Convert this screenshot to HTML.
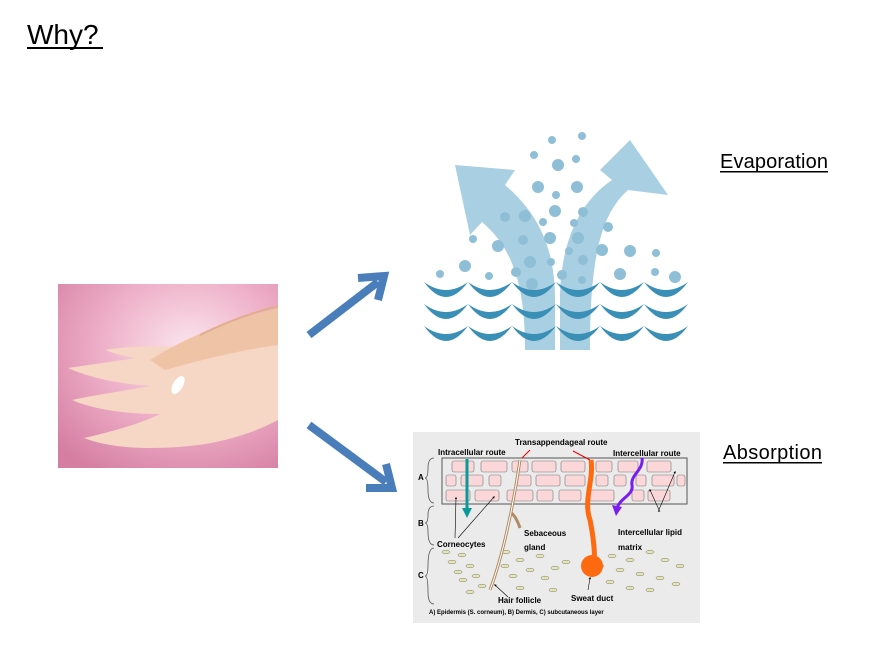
<!DOCTYPE html>
<html><head><style>
body{margin:0;background:#fff;width:874px;height:654px;overflow:hidden;font-family:"Liberation Sans",sans-serif}
</style></head><body>
<svg width="874" height="654" viewBox="0 0 874 654" xmlns="http://www.w3.org/2000/svg" font-family="Liberation Sans, sans-serif">
<defs>
<radialGradient id="pk" cx="0.6" cy="0.35" r="0.8">
<stop offset="0" stop-color="#fbe6ee"/><stop offset="0.5" stop-color="#eeb0c8"/><stop offset="1" stop-color="#d57ea2"/></radialGradient>
<marker id="ah" markerWidth="4" markerHeight="4" refX="2" refY="2" orient="auto"><path d="M0,0L4,2L0,4z" fill="#000"/></marker>
</defs>
<text x="27" y="44" font-size="28" fill="#000">Why?</text>
<rect x="27" y="47" width="76" height="2" fill="#000"/>
<text x="720" y="168" textLength="108" font-size="20">Evaporation</text><rect x="720" y="171" width="108" height="1.5" fill="#000"/>
<text x="723" y="459" textLength="99" font-size="20">Absorption</text><rect x="723" y="462" width="99" height="1.5" fill="#000"/>
<!-- hands -->
<rect x="58" y="284" width="220" height="184" fill="url(#pk)"/>
<g fill="#f6d6c4">
<path d="M68,368 C110,362 150,356 190,350 C220,345 250,330 278,320 L278,420 C240,440 200,448 150,448 C120,448 100,444 84,438 C110,432 140,424 160,414 C120,414 90,408 72,400 C100,394 130,390 150,386 C120,384 90,378 68,368z"/>
<path d="M105,350 C130,346 160,345 185,348 L180,362 C150,362 125,358 105,350z"/>
<path d="M120,433 C145,430 170,426 190,420 L195,436 C170,442 145,442 120,433z"/>
</g>
<path d="M150,360 C190,335 230,320 278,308 L278,345 C240,350 200,360 165,370z" fill="#efc3a6"/>
<path d="M200,335 C230,320 255,312 278,306" stroke="#e2ac8e" stroke-width="2" fill="none"/>
<ellipse cx="178" cy="385" rx="5" ry="10" fill="#fff" transform="rotate(30 178 385)"/>
<!-- arrows -->
<g stroke="#4a7ebb" stroke-width="8" fill="none" stroke-linejoin="miter">
<path d="M309,335 L378,282"/><path d="M358,278 L384,276 L378,300"/>
<path d="M309,425 L386,482"/><path d="M366,488 L392,488 L386,464"/>
</g>
<!-- evaporation -->
<g fill="#a9cfe2">
<path d="M555,350 L555,300 C555,250 540,215 505,185 L515,170 L455,165 L470,235 L482,222 C515,250 525,290 525,350z"/>
<path d="M560,350 L560,300 C560,250 575,205 612,180 L600,170 L630,140 L668,195 L628,190 C600,215 590,260 590,350z"/>
</g>
<g fill="#8fbfd6">
<circle cx="582" cy="136" r="4"/><circle cx="552" cy="140" r="4"/><circle cx="534" cy="155" r="4"/><circle cx="576" cy="159" r="4"/><circle cx="558" cy="165" r="6"/><circle cx="538" cy="187" r="6"/><circle cx="577" cy="187" r="6"/><circle cx="556" cy="195" r="4"/><circle cx="525" cy="216" r="6"/><circle cx="555" cy="211" r="6"/><circle cx="583" cy="212" r="5"/><circle cx="505" cy="217" r="5"/><circle cx="543" cy="222" r="4"/><circle cx="574" cy="223" r="4"/><circle cx="608" cy="227" r="5"/><circle cx="473" cy="239" r="4"/><circle cx="498" cy="246" r="6"/><circle cx="523" cy="240" r="5"/><circle cx="550" cy="238" r="6"/><circle cx="578" cy="238" r="6"/><circle cx="569" cy="251" r="4"/><circle cx="602" cy="250" r="6"/><circle cx="630" cy="251" r="6"/><circle cx="656" cy="253" r="4"/><circle cx="465" cy="266" r="6"/><circle cx="489" cy="276" r="4"/><circle cx="440" cy="274" r="4"/><circle cx="530" cy="262" r="6"/><circle cx="551" cy="262" r="4"/><circle cx="583" cy="260" r="5"/><circle cx="516" cy="272" r="5"/><circle cx="620" cy="274" r="6"/><circle cx="655" cy="272" r="4"/><circle cx="675" cy="277" r="6"/><circle cx="532" cy="284" r="6"/><circle cx="582" cy="280" r="4"/><circle cx="562" cy="275" r="5"/>
</g>
<g fill="#3a8fb7">
<path id="r1" d="M424,282 Q446,312 468,282 Q446,298 424,282z M468,282 Q490,312 512,282 Q490,298 468,282z M512,282 Q534,312 556,282 Q534,298 512,282z M556,282 Q578,312 600,282 Q578,298 556,282z M600,282 Q622,312 644,282 Q622,298 600,282z M644,282 Q666,312 688,282 Q666,298 644,282z"/>
<use href="#r1" transform="translate(0,22)"/>
<use href="#r1" transform="translate(0,44)"/>
</g>
<!-- absorption -->
<rect x="413" y="432" width="287" height="191" fill="#ebebeb"/>
<rect x="442" y="458" width="245" height="46" fill="none" stroke="#555" stroke-width="1"/>
<g fill="#fbd7d9" stroke="#777" stroke-width="0.6">
<rect x="452" y="461" width="22" height="11" rx="2"/><rect x="481" y="461" width="26" height="11" rx="2"/><rect x="512" y="461" width="16" height="11" rx="2"/><rect x="532" y="461" width="24" height="11" rx="2"/><rect x="561" y="461" width="24" height="11" rx="2"/><rect x="596" y="461" width="16" height="11" rx="2"/><rect x="618" y="461" width="20" height="11" rx="2"/><rect x="647" y="461" width="24" height="11" rx="2"/>
<rect x="446" y="475" width="10" height="11" rx="2"/><rect x="461" y="475" width="22" height="11" rx="2"/><rect x="489" y="475" width="12" height="11" rx="2"/><rect x="517" y="475" width="14" height="11" rx="2"/><rect x="536" y="475" width="24" height="11" rx="2"/><rect x="565" y="475" width="20" height="11" rx="2"/><rect x="596" y="475" width="12" height="11" rx="2"/><rect x="614" y="475" width="12" height="11" rx="2"/><rect x="636" y="475" width="10" height="11" rx="2"/><rect x="652" y="475" width="22" height="11" rx="2"/><rect x="677" y="475" width="8" height="11" rx="2"/>
<rect x="446" y="490" width="24" height="11" rx="2"/><rect x="475" y="490" width="24" height="11" rx="2"/><rect x="507" y="490" width="26" height="11" rx="2"/><rect x="537" y="490" width="16" height="11" rx="2"/><rect x="559" y="490" width="22" height="11" rx="2"/><rect x="590" y="490" width="24" height="11" rx="2"/><rect x="632" y="490" width="12" height="11" rx="2"/><rect x="648" y="490" width="22" height="11" rx="2"/>
</g>
<g fill="#e6e6b0" stroke="#777" stroke-width="0.5">
<ellipse cx="446" cy="552" rx="4" ry="1.8"/><ellipse cx="462" cy="555" rx="4" ry="1.8"/><ellipse cx="452" cy="562" rx="4" ry="1.8"/><ellipse cx="470" cy="566" rx="4" ry="1.8"/><ellipse cx="458" cy="572" rx="4" ry="1.8"/><ellipse cx="476" cy="576" rx="4" ry="1.8"/><ellipse cx="463" cy="580" rx="4" ry="1.8"/><ellipse cx="482" cy="586" rx="4" ry="1.8"/><ellipse cx="470" cy="592" rx="4" ry="1.8"/>
<ellipse cx="506" cy="552" rx="4" ry="1.8"/><ellipse cx="520" cy="560" rx="4" ry="1.8"/><ellipse cx="505" cy="566" rx="4" ry="1.8"/><ellipse cx="530" cy="570" rx="4" ry="1.8"/><ellipse cx="513" cy="576" rx="4" ry="1.8"/><ellipse cx="540" cy="556" rx="4" ry="1.8"/><ellipse cx="545" cy="578" rx="4" ry="1.8"/><ellipse cx="520" cy="588" rx="4" ry="1.8"/><ellipse cx="553" cy="590" rx="4" ry="1.8"/><ellipse cx="566" cy="562" rx="4" ry="1.8"/><ellipse cx="555" cy="568" rx="4" ry="1.8"/>
<ellipse cx="612" cy="556" rx="4" ry="1.8"/><ellipse cx="630" cy="560" rx="4" ry="1.8"/><ellipse cx="650" cy="552" rx="4" ry="1.8"/><ellipse cx="665" cy="560" rx="4" ry="1.8"/><ellipse cx="680" cy="566" rx="4" ry="1.8"/><ellipse cx="620" cy="570" rx="4" ry="1.8"/><ellipse cx="640" cy="574" rx="4" ry="1.8"/><ellipse cx="660" cy="578" rx="4" ry="1.8"/><ellipse cx="610" cy="582" rx="4" ry="1.8"/><ellipse cx="630" cy="588" rx="4" ry="1.8"/><ellipse cx="650" cy="590" rx="4" ry="1.8"/><ellipse cx="676" cy="584" rx="4" ry="1.8"/><ellipse cx="600" cy="566" rx="4" ry="1.8"/>
</g>
<g fill="none" stroke="#555" stroke-width="0.8">
<path d="M434,458 Q428,458 428,468 Q428,478 425,478 Q428,478 428,490 Q428,503 434,503"/>
<path d="M434,506 Q428,506 428,515 Q428,523 425,523 Q428,523 428,532 Q428,545 434,545"/>
<path d="M434,548 Q428,548 428,565 Q428,576 425,576 Q428,576 428,592 Q428,604 434,604"/>
</g>
<path d="M520,460 C514,500 505,550 490,590 M510,512 C515,515 518,522 520,528" stroke="#b08a60" stroke-width="3" fill="none"/>
<path d="M520,460 C514,500 505,550 490,590" stroke="#fff" stroke-width="1" fill="none"/>
<path d="M591,460 C594,480 583,500 590,520 C594,540 595,555 594,560" stroke="#ff6a10" stroke-width="5" fill="none"/>
<circle cx="592" cy="566" r="11" fill="#ff6a10"/>
<path d="M467,459 L467,510" stroke="#0a9a9a" stroke-width="3"/><path d="M462,508 L467,518 L472,508z" fill="#0a9a9a"/>
<path d="M642,458 C644,470 630,475 632,485 C634,495 620,498 617,508" stroke="#7a1ef0" stroke-width="3" fill="none"/><path d="M612,505 L616,516 L622,507z" fill="#7a1ef0"/>
<path d="M530,450 L522,458 M573,451 L590,460" stroke="#e00" stroke-width="1"/>
<g stroke="#000" stroke-width="0.6" marker-end="url(#ah)">
<path d="M455,538 L456,498"/><path d="M458,538 L494,497"/><path d="M658,512 L675,472"/><path d="M660,512 L650,490"/><path d="M588,590 L590,578"/><path d="M508,597 L495,585"/>
</g>
<g font-size="8" font-weight="bold" fill="#000">
<text x="438" y="455">Intracellular route</text>
<text x="515" y="445">Transappendageal route</text>
<text x="613" y="456">Intercellular route</text>
<text x="618" y="535">Intercellular lipid</text>
<text x="618" y="550">matrix</text>
<text x="437" y="547">Corneocytes</text>
<text x="524" y="536">Sebaceous</text>
<text x="524" y="550">gland</text>
<text x="498" y="603">Hair follicle</text>
<text x="571" y="601">Sweat duct</text>
<text x="418" y="480">A</text><text x="418" y="526">B</text><text x="418" y="578">C</text>
</g>
<text x="429" y="614" font-size="6" font-weight="bold">A) Epidermis (S. corneum), B) Dermis, C) subcutaneous layer</text>
</svg>
</body></html>
